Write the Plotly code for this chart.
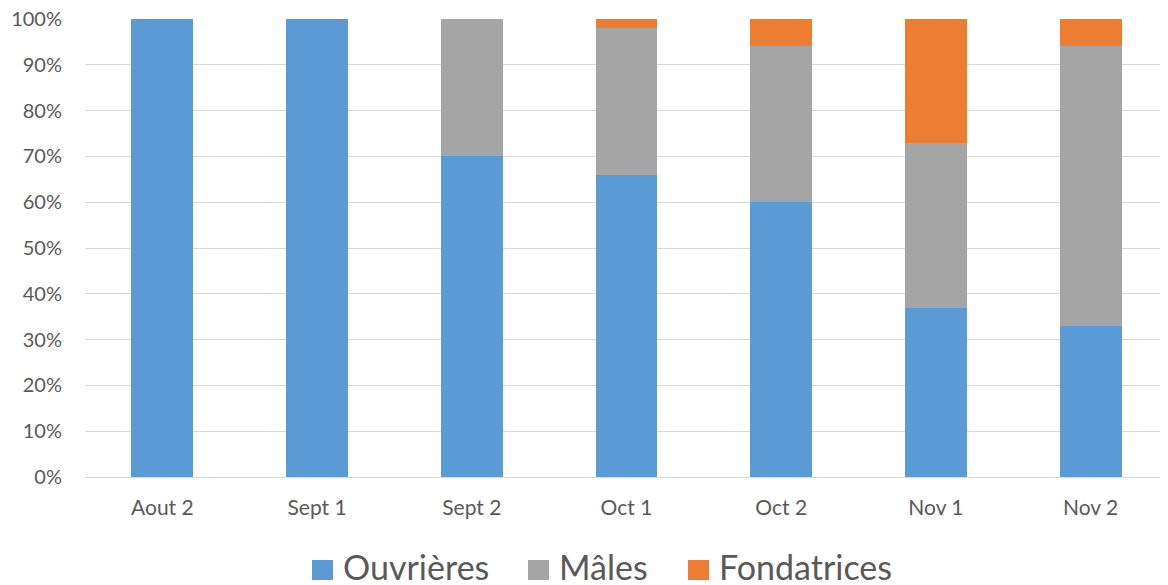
import plotly.graph_objects as go

categories = ["Aout 2", "Sept 1", "Sept 2", "Oct 1", "Oct 2", "Nov 1", "Nov 2"]
ouvrieres = [100, 100, 70, 66, 60, 37, 33]
males = [0, 0, 30, 32, 34, 36, 61]
fondatrices = [0, 0, 0, 2, 6, 27, 6]
y_tickvals = [0, 10, 20, 30, 40, 50, 60, 70, 80, 90, 100]
y_ticktext = ["0%", "10%", "20%", "30%", "40%", "50%", "60%", "70%", "80%", "90%", "100%"]
series_names = ["Ouvrières", "Mâles", "Fondatrices"]
series_colors = ["#5B9BD5", "#A5A5A5", "#ED7D31"]

# page has an 8px body margin: figure is drawn at (8, 8) in the window
OFF = 8
WIN_W, WIN_H = 1168, 585
W, H = WIN_W - OFF, WIN_H - OFF
# plot area in window pixels: x 85..1168, y 19..477
L = 85 - OFF
T = 19 - OFF
R = 0
B = WIN_H - 477
PW, PH = W - L - R, H - T - B

def px_x(p):  # window pixel -> paper x
    return (p - OFF - L) / PW

def px_y(p):  # window pixel -> paper y
    return (477 - p) / PH

fig = go.Figure()
for name, vals, col in zip(series_names, [ouvrieres, males, fondatrices], series_colors):
    fig.add_trace(go.Bar(x=categories, y=vals, name=name,
                         marker=dict(color=col, line=dict(width=0)),
                         width=0.4, showlegend=False))

# manual legend (large squares like the reference)
legend_sq_left = [312, 528, 688]
legend_text_left = [341, 557, 717]
for name, col, sx, tx in zip(series_names, series_colors, legend_sq_left, legend_text_left):
    fig.add_shape(type="rect", xref="paper", yref="paper",
                  x0=px_x(sx), x1=px_x(sx + 21), y0=px_y(580), y1=px_y(560),
                  fillcolor=col, line=dict(width=0))
    fig.add_annotation(xref="paper", yref="paper", x=px_x(tx), y=px_y(566),
                       xanchor="left", yanchor="middle", text=name, showarrow=False,
                       font=dict(size=34, color="#595959"))

fig.update_layout(
    barmode="stack",
    width=W, height=H,
    margin=dict(l=L, r=R, t=T, b=B, pad=0),
    plot_bgcolor="white", paper_bgcolor="white",
    font=dict(family="Lato, Open Sans, sans-serif", color="#595959", size=20),
    showlegend=False,
)
fig.update_yaxes(range=[0, 100], tickvals=y_tickvals, ticktext=y_ticktext,
                 showgrid=True, gridcolor="#D9D9D9", gridwidth=1.4,
                 zeroline=True, zerolinecolor="#D9D9D9", zerolinewidth=1.4,
                 showline=False, ticks="", automargin=False, ticklabelstandoff=22,
                 ticklabeloverflow="allow",
                 tickfont=dict(size=20, color="#595959"))
fig.update_xaxes(showgrid=False, showline=False, ticks="", automargin=False,
                 ticklabelstandoff=16, ticklabeloverflow="allow",
                 tickfont=dict(size=21, color="#595959"))

fig.write_html("out.html")
